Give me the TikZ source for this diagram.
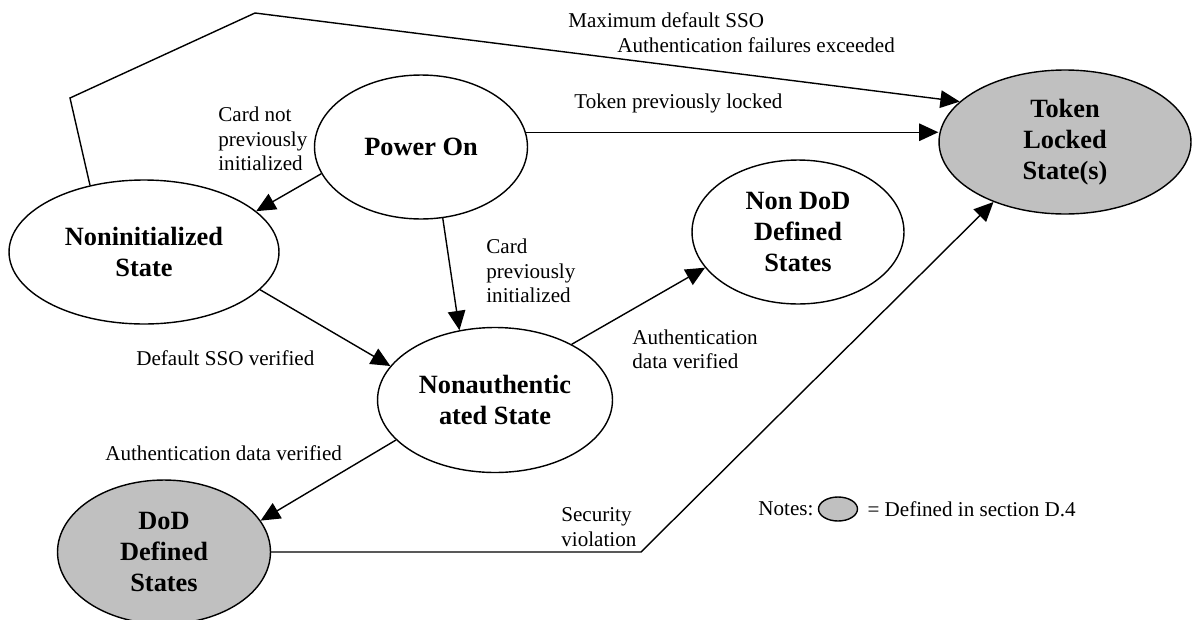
\documentclass[tikz,border=0pt]{standalone}
\usepackage{fontspec}
\setmainfont{Liberation Serif}
\usetikzlibrary{arrows.meta,shapes.geometric,positioning}

\definecolor{dodgray}{RGB}{192,192,192}

\begin{document}
\begin{tikzpicture}[x=0.02cm,y=-0.02cm,
    state/.style={
    % The shape:
    ellipse,inner sep=0pt,minimum width=4.26cm,minimum height=2.88cm,
    % The rest
    draw=black,line width=0.8pt,align=center,
    font=\fontsize{15}{17.6}\selectfont\bfseries},
    defined/.style={state,fill=dodgray},
    cond/.style={inner sep=0pt,anchor=west,align=left,
    font=\fontsize{12}{13.8}\selectfont},
    arr/.style={line width=0.8pt,-{Triangle[length=11pt,width=10pt]}}]
    \useasboundingbox (0,0) rectangle (1192,619);
    % states
    \node (power) [state] at (421,147) {Power On};
    \node (nonin) [state,minimum width=5.4cm] at (144,252) {Noninitialized\\State};
    \node (nonauth) [state,minimum width=4.7cm,minimum height=2.9cm] at (495,400) {Nonauthentic\\ated State};
    \node (nondod) [state,minimum width=4.24cm] at (798,232) {Non DoD\\Defined\\States};
    \node (locked) [defined,minimum width=5.04cm] at (1065,142) {Token\\Locked\\State(s)};
    \node (dod) [defined] at (164,552) {DoD\\Defined\\States};
    % bends
    \coordinate (bendlow) at (70,98);
    \coordinate (bendtop) at (255,13);
    \coordinate (bendsec) at (641,552);
    % transitions
    \draw[arr] (nonin.129) -- (bendlow) -- (bendtop) -- (locked.159);
    \draw[arr] (power.8) -- (power.8 -| locked.west);
    \draw[arr] (power.195) -- (nonin.20);
    \draw[arr] (power.-73) -- (nonauth.117);
    \draw[arr] (nonin.-18) -- (nonauth.162);
    \draw[arr] (nonauth.36) -- (nondod.201);
    \draw[arr] (nonauth.202) -- (dod.18);
    \draw[arr] (dod.east) -- (bendsec) -- (locked.220);
    % conditions
    \node (maxsso) [cond] at (568,20) {Maximum default SSO};
    \node (authfail) [cond] at (617,45) {Authentication failures exceeded};
    \node (prevlock) [cond] at (574,103) {Token previously locked};
    \node (notinit) [cond] at (218,139) {Card not\\previously\\initialized};
    \node (previnit) [cond] at (486,271) {Card\\previously\\initialized};
    \node (ssook) [cond] at (136,358) {Default SSO verified};
    \node (authnon) [cond] at (632,349) {Authentication\\data verified};
    \node (authdod) [cond] at (105,453) {Authentication data verified};
    \node (secviol) [cond] at (561,527) {Security\\violation};
    % notes
    \node (legend) [defined,minimum width=0.78cm,minimum height=0.48cm] at (838,509) {};
    \node (notes) [cond,left=0.08cm of legend] {Notes:};
    \node (meaning) [cond,right=0.18cm of legend] {= Defined in section D.4};
\end{tikzpicture}
\end{document}
